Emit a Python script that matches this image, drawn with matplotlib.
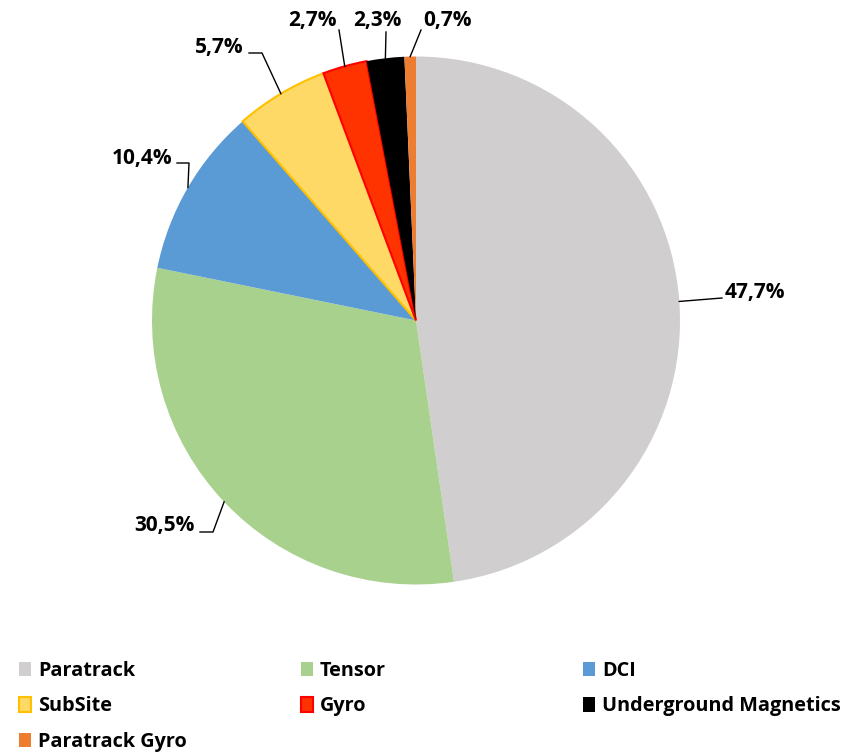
import matplotlib
matplotlib.use("Agg")
import matplotlib.pyplot as plt
import numpy as np

plt.rcParams['font.family'] = ['Open Sans', 'DejaVu Sans']

categories = ["Paratrack", "Tensor", "DCI", "SubSite", "Gyro",
              "Underground Magnetics", "Paratrack Gyro"]
shares = [47.7, 30.5, 10.4, 5.7, 2.7, 2.3, 0.7]
labels = ["47,7%", "30,5%", "10,4%", "5,7%", "2,7%", "2,3%", "0,7%"]

face_colors = ["#D0CECE", "#A9D18E", "#5B9BD5", "#FFD966", "#FF3300", "#000000", "#ED7D31"]
edge_colors = ["none", "none", "none", "#FFC000", "#FF0000", "none", "none"]

W, H = 861, 753
fig = plt.figure(figsize=(W / 100, H / 100), dpi=100)
ax = fig.add_axes([0, 0, 1, 1])

cx, cy, r = 416, H - 320.5, 264
wedges, _ = ax.pie(shares, colors=face_colors, startangle=90, counterclock=False,
                   center=(cx, cy), radius=r,
                   wedgeprops=dict(linewidth=1.5))
for w, ec in zip(wedges, edge_colors):
    w.set_edgecolor(ec)

ax.set_xlim(0, W)
ax.set_ylim(0, H)
ax.set_aspect('equal')
ax.axis('off')

# leader line elbows and label anchors (pixel coords from top-left)
label_layout = [
    ([(722, 298)], (725, 292), 'left'),
    ([(213, 532), (200, 532)], (195, 525), 'right'),
    ([(189, 163), (177, 163)], (172, 158), 'right'),
    ([(262, 53), (249, 53)], (244, 47), 'right'),
    ([(339, 30)], (312, 20), 'center'),
    ([(386, 32)], (377, 20), 'center'),
    ([(421, 30)], (448, 20), 'center'),
]

for w, lab, (elbows, (tx, ty), ha) in zip(wedges, labels, label_layout):
    mid = np.deg2rad((w.theta1 + w.theta2) / 2)
    xs = [cx + r * np.cos(mid)] + [p[0] for p in elbows]
    ys = [cy + r * np.sin(mid)] + [H - p[1] for p in elbows]
    ax.plot(xs, ys, color="black", lw=1)
    ax.text(tx, H - ty, lab, ha=ha, va='center', fontsize=15, fontweight='bold')

# legend: three columns laid out like the original
col_x = [19 / W, 301 / W, 583 / W]
for c in range(3):
    idx = list(range(c, len(categories), 3))
    fig.legend([wedges[i] for i in idx], [categories[i] for i in idx],
               loc='upper left', bbox_to_anchor=(col_x[c], 1 - 661 / H),
               frameon=False, borderaxespad=0, borderpad=0,
               handlelength=0.6, handleheight=0.75, handletextpad=0.35,
               labelspacing=0.78, prop=dict(size=14.3, weight='bold'))

fig.savefig("out.png", dpi=100)
